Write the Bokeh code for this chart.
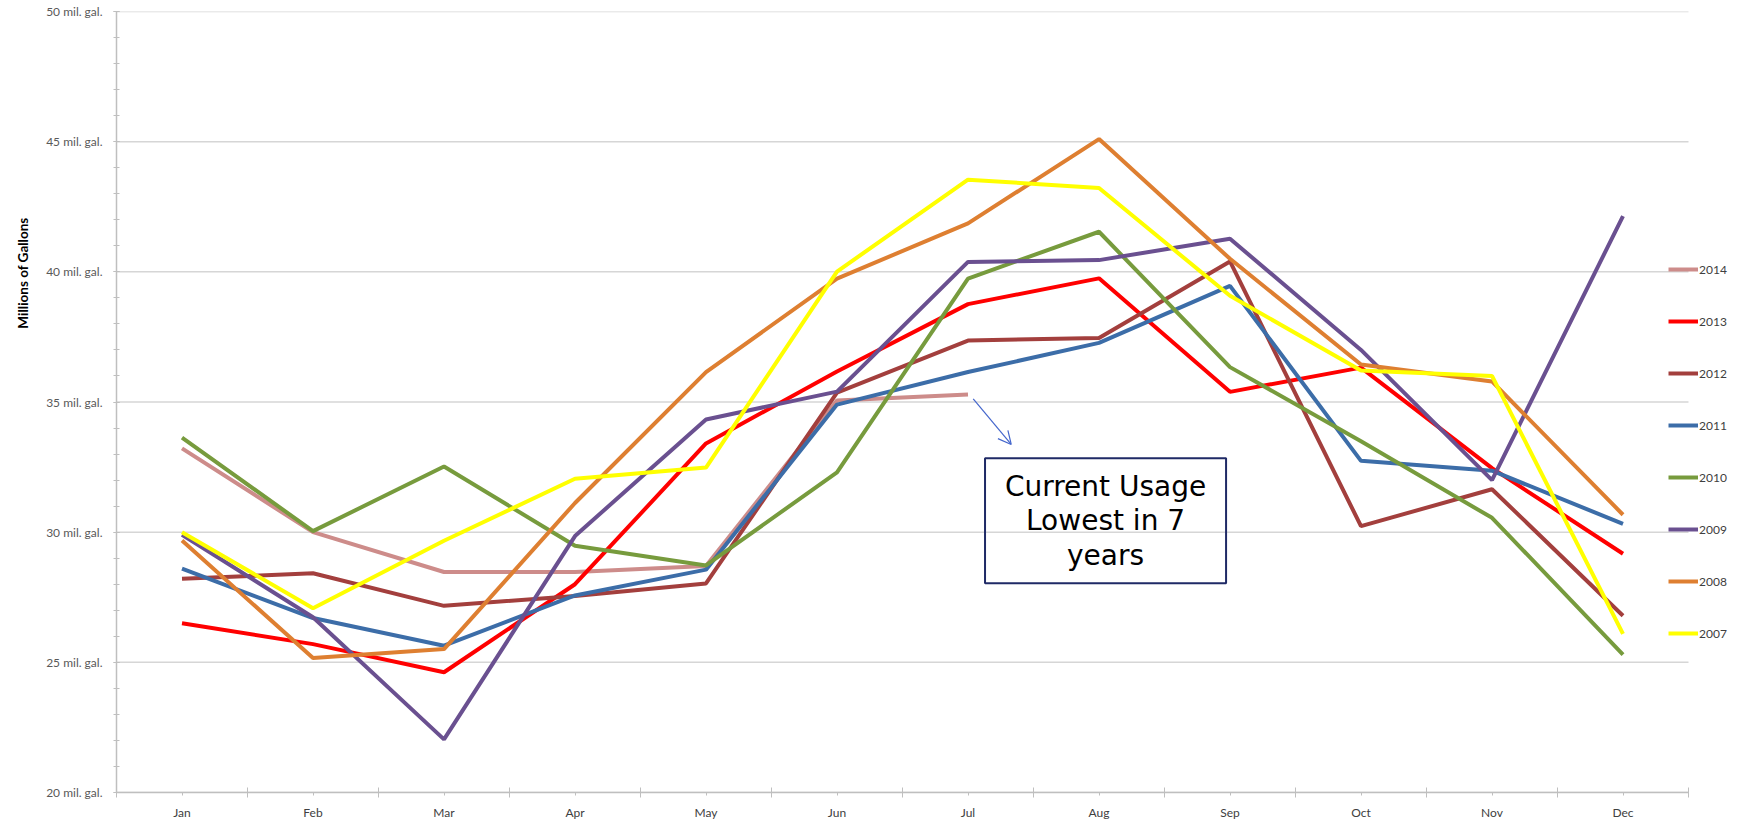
from bokeh.plotting import figure
from bokeh.models import (Range1d, FixedTicker, Legend, LegendItem, Label, Arrow,
                          OpenHead, BoxAnnotation, ColumnDataSource, Title)
from bokeh.embed import file_html
from bokeh.resources import INLINE

months = ["Jan", "Feb", "Mar", "Apr", "May", "Jun", "Jul", "Aug", "Sep", "Oct", "Nov", "Dec"]
month_idx = list(range(1, 13))

y_ticks = [20, 25, 30, 35, 40, 45, 50]
y_tick_labels = ["20 mil. gal.", "25 mil. gal.", "30 mil. gal.", "35 mil. gal.",
                 "40 mil. gal.", "45 mil. gal.", "50 mil. gal."]

years = ["2014", "2013", "2012", "2011", "2010", "2009", "2008", "2007"]
u2014 = [33.22, 30.00, 28.47, 28.47, 28.70, 35.06, 35.29]
u2013 = [26.50, 25.70, 24.62, 28.00, 33.41, 36.17, 38.76, 39.75, 35.39, 36.32, 32.46, 29.17]
u2012 = [28.21, 28.42, 27.17, 27.55, 28.03, 35.36, 37.36, 37.46, 40.40, 30.23, 31.65, 26.79]
u2011 = [28.60, 26.70, 25.64, 27.57, 28.56, 34.90, 36.15, 37.27, 39.46, 32.74, 32.36, 30.32]
u2010 = [33.63, 30.04, 32.52, 29.48, 28.72, 32.30, 39.74, 41.54, 36.34, 33.49, 30.55, 25.30]
u2009 = [29.90, 26.73, 22.04, 29.85, 34.33, 35.40, 40.38, 40.45, 41.27, 37.00, 32.00, 42.14]
u2008 = [29.68, 25.17, 25.51, 31.12, 36.15, 39.74, 41.86, 45.10, 40.50, 36.44, 35.79, 30.67]
u2007 = [30.00, 27.08, 29.67, 32.05, 32.48, 40.01, 43.54, 43.22, 39.08, 36.21, 36.00, 26.09]
series = [u2014, u2013, u2012, u2011, u2010, u2009, u2008, u2007]
colors = ["#CD8C8A", "#FF0000", "#A33F3D", "#3C6DA8", "#779B3D", "#6A5090", "#DE7F31", "#FFFF00"]

W, H = 1740, 822
left_b, top_b, bottom_b = 116, 11, 26
px_per_month = 131.0
x_end = 0.5 + (W - left_b) / px_per_month

p = figure(width=W, height=H, output_backend="svg", toolbar_location=None,
           x_range=Range1d(0.5, x_end), y_range=Range1d(20, 50),
           min_border_left=left_b, min_border_right=0, min_border_top=top_b,
           min_border_bottom=bottom_b)
p.outline_line_color = None
p.background_fill_color = "white"
p.xgrid.visible = False
p.ygrid.visible = False

# horizontal gridlines spanning only the month area
p.segment(x0=[0.5] * len(y_ticks), x1=[12.5] * len(y_ticks), y0=y_ticks, y1=y_ticks,
          line_color="#D6D6D6", line_width=1.5)

axis_col = "#BFBFBF"
ya = p.yaxis[0]
ya.ticker = FixedTicker(ticks=y_ticks, minor_ticks=list(range(20, 51)))
ya.major_label_overrides = {t: l for t, l in zip(y_ticks, y_tick_labels)}
ya.axis_line_color = axis_col
ya.axis_line_width = 1.5
ya.major_tick_line_color = axis_col
ya.minor_tick_line_color = axis_col
ya.major_tick_in = 3
ya.major_tick_out = 3
ya.minor_tick_in = 3
ya.minor_tick_out = 3
ya.major_label_standoff = 11
ya.major_label_text_font = "Lato"
ya.major_label_text_font_size = "12px"
ya.major_label_text_color = "#595959"

xa = p.xaxis[0]
xa.bounds = (0.5, 12.5)
xa.ticker = FixedTicker(ticks=month_idx, minor_ticks=[i + 0.5 for i in range(0, 13)])
xa.major_label_overrides = {i: m for i, m in zip(month_idx, months)}
xa.axis_line_color = axis_col
xa.axis_line_width = 1.5
xa.major_tick_line_color = axis_col
xa.minor_tick_line_color = axis_col
xa.major_tick_in = 0
xa.major_tick_out = 3
xa.minor_tick_in = 5
xa.minor_tick_out = 5
xa.major_label_standoff = 7
xa.major_label_text_font = "Lato"
xa.major_label_text_font_size = "12px"
xa.major_label_text_color = "#404040"

renderers = {}
for yr, vals, col in zip(years, series, colors):
    src = ColumnDataSource(dict(x=month_idx[:len(vals)], y=vals))
    renderers[yr] = p.line("x", "y", source=src, line_color=col, line_width=4)

legend = Legend(items=[LegendItem(label=yr, renderers=[renderers[yr]]) for yr in years],
                location=(1552, 149), orientation="vertical", spacing=32,
                label_height=20, glyph_height=20, glyph_width=30, label_standoff=1,
                padding=0, margin=0, border_line_color=None, background_fill_alpha=0,
                label_text_font="Lato", label_text_font_size="12px",
                label_text_color="#404040")
p.add_layout(legend)

# y axis title, placed towards the top like the original
p.add_layout(Title(text="Millions of Gallons", align="right", offset=206,
                   vertical_align="top",
                   text_font="Lato", text_font_style="bold", text_font_size="13.5px",
                   text_color="#000000", standoff=22), "left")

# annotation arrow and box
p.add_layout(Arrow(end=OpenHead(size=13, line_color="#4466CC", line_width=1.2),
                   x_start=7.04, y_start=35.12, x_end=7.33, y_end=33.37,
                   line_color="#4466CC", line_width=1.2))
p.add_layout(BoxAnnotation(left=7.13, right=8.97, top=32.84, bottom=28.04,
                           fill_color=None, fill_alpha=0, line_color="#1F2A66",
                           line_width=2, line_alpha=1))
for txt, yy in [("Current Usage", 31.77), ("Lowest in 7", 30.43), ("years", 29.09)]:
    p.add_layout(Label(x=8.05, y=yy, text=txt, text_align="center", text_baseline="middle",
                       text_font="DejaVu Sans", text_font_size="28px", text_color="#000000"))

open("out.html", "w").write(file_html(p, INLINE))
